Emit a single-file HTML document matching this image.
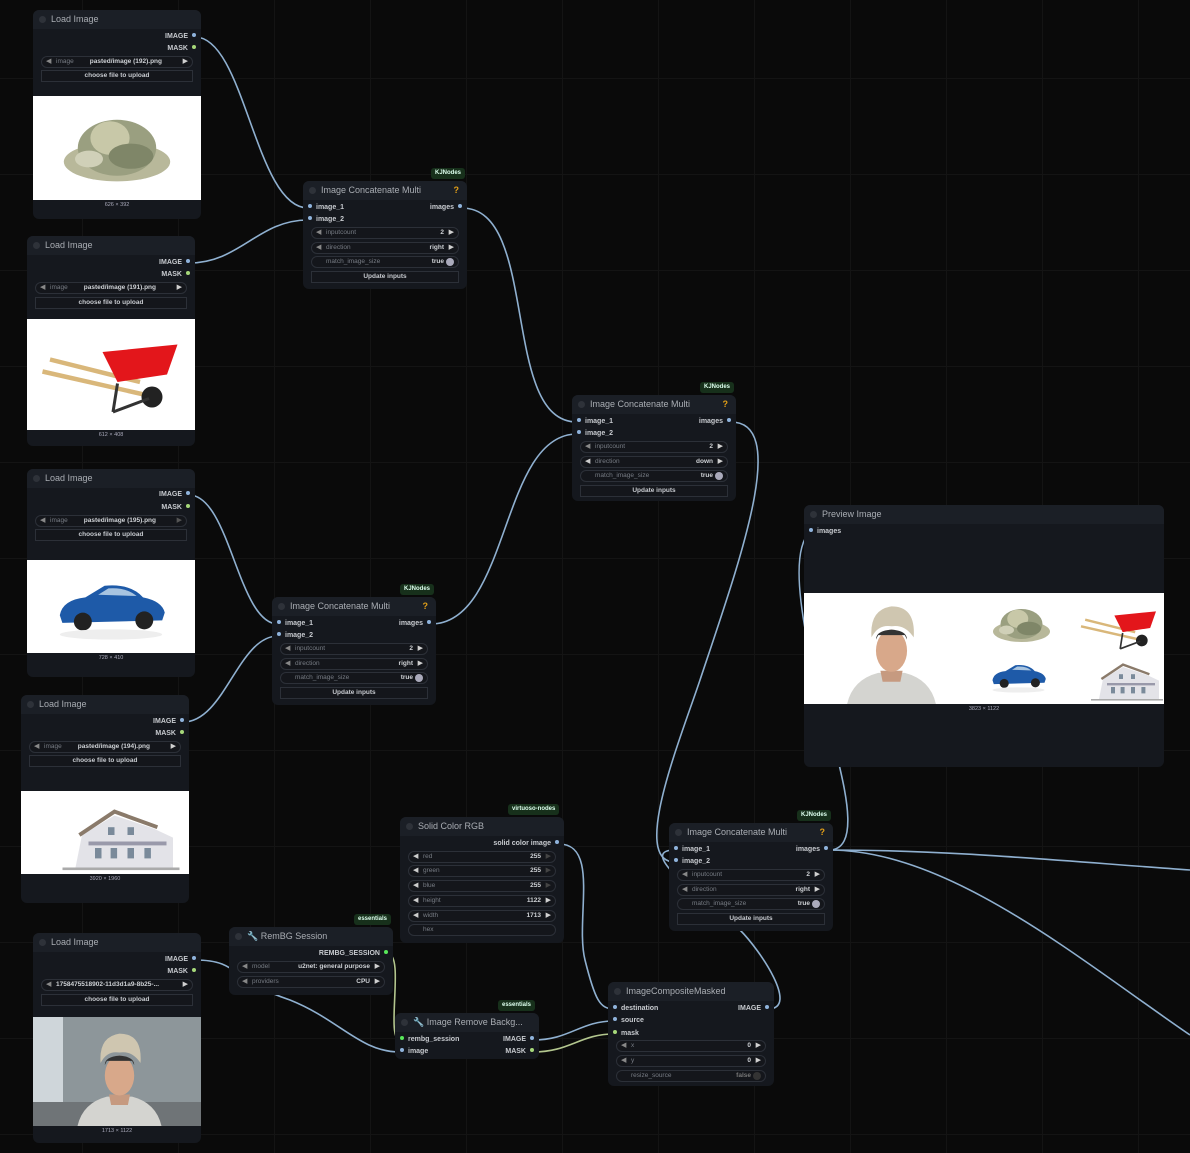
<!DOCTYPE html>
<html><head><meta charset="utf-8">
<style>
*{box-sizing:border-box;margin:0;padding:0}
body{width:1190px;height:1153px;overflow:hidden;background:#0a0a0a;position:relative;font-family:"Liberation Sans",Arial,sans-serif;
background-image:linear-gradient(#141414 1px,transparent 1px),linear-gradient(90deg,#141414 1px,transparent 1px);background-size:96px 96px;background-position:-14px -18px}
.n{position:absolute;background:#15181e;border-radius:6px;}
.t{position:absolute;left:0;top:0;right:0;height:19px;background:#1b1f26;border-radius:6px 6px 0 0;color:#a9adb3;font-size:9px;line-height:19px;padding-left:18px;white-space:nowrap}
.t:before{content:"";position:absolute;left:6px;top:6px;width:7px;height:7px;border-radius:50%;background:#2e3239}
.q{position:absolute;right:8px;top:0;color:#e3a018;font-weight:bold;font-size:9px}
.o{position:absolute;right:5px;font-size:7px;font-weight:bold;color:#c8cbd0;white-space:nowrap;line-height:10px}
.o:after{content:"";display:inline-block;width:4px;height:4px;border-radius:50%;background:#8fb3dc;margin-left:4px;vertical-align:1px}
.o.g:after{background:#a6d87a}
.o.gg:after{background:#58e85a}
.i{position:absolute;left:5px;font-size:7px;font-weight:bold;color:#c8cbd0;white-space:nowrap;line-height:10px}
.i:before{content:"";display:inline-block;width:4px;height:4px;border-radius:50%;background:#8fb3dc;margin-right:4px;vertical-align:1px}
.i.gg:before{background:#58e85a}
.i.g:before{background:#a6d87a}
.w{position:absolute;left:8px;right:8px;height:12px;border:1px solid #2c3038;border-radius:6px;background:#14161b;font-size:6.5px;line-height:10px;color:#777c84;padding:0 8px}
.w .l{position:absolute;left:14px}
.w .v{position:absolute;right:14px;color:#cfd2d6;font-weight:bold}
.w .a{position:absolute;right:4px;color:#d0d0d0;font-size:7px}
.w .la{position:absolute;left:4px;color:#888;font-size:7px}
.btn{position:absolute;left:8px;right:8px;height:12px;border:1px solid #2c3038;background:#14161b;font-size:6.5px;line-height:10px;color:#c8cbd0;text-align:center;font-weight:bold}
.img{position:absolute;left:0;right:0;background:#fff;overflow:hidden}
.sz{position:absolute;left:0;right:0;text-align:center;font-size:5.5px;color:#aab}
.badge{position:absolute;background:#17301b;color:#dfe;font-size:6px;font-weight:bold;padding:0 4px;line-height:11px;border-radius:3px}
svg.wires{position:absolute;left:0;top:0;pointer-events:none}
</style></head><body>

<svg width="0" height="0" style="position:absolute">
<defs>
<symbol id="money" viewBox="0 0 100 60"><ellipse cx="50" cy="42" rx="38" ry="14" fill="#b8b89a"/><ellipse cx="50" cy="32" rx="28" ry="20" fill="#9a9f80"/><ellipse cx="45" cy="25" rx="14" ry="12" fill="#c8c8a8"/><ellipse cx="60" cy="38" rx="16" ry="9" fill="#7f8668"/><ellipse cx="30" cy="40" rx="10" ry="6" fill="#d0d0b8"/></symbol>
<symbol id="barrow" viewBox="0 0 100 60"><line x1="5" y1="28" x2="80" y2="45" stroke="#d9b77a" stroke-width="3"/><line x1="10" y1="20" x2="70" y2="35" stroke="#d9b77a" stroke-width="3"/><path d="M45 15 L95 10 L88 30 L55 35 Z" fill="#e3161b"/><circle cx="78" cy="45" r="7" fill="#222"/><line x1="55" y1="36" x2="52" y2="55" stroke="#333" stroke-width="2"/><line x1="52" y1="55" x2="76" y2="46" stroke="#333" stroke-width="2"/></symbol>
<symbol id="car" viewBox="0 0 100 60"><path d="M10 38 Q12 26 30 24 L45 15 Q65 13 75 24 Q90 27 92 36 L90 42 L12 44Z" fill="#1e5aa8"/><path d="M40 22 L48 17 Q62 16 70 23Z" fill="#a8c4e0"/><circle cx="28" cy="43" r="7" fill="#222"/><circle cx="76" cy="42" r="7" fill="#222"/><ellipse cx="50" cy="53" rx="40" ry="4" fill="#eee"/></symbol>
<symbol id="house" viewBox="0 0 100 60"><path d="M20 30 L45 15 L75 25 L90 32 L90 55 L15 55 Z" fill="#e3e3e8"/><path d="M18 30 L45 12 L78 24" stroke="#8a7a6a" stroke-width="3" fill="none"/><rect x="25" y="35" width="60" height="3" fill="#99a"/><g fill="#7a8a9a"><rect x="30" y="40" width="5" height="8"/><rect x="42" y="40" width="5" height="8"/><rect x="55" y="40" width="5" height="8"/><rect x="68" y="40" width="5" height="8"/><rect x="40" y="24" width="5" height="6"/><rect x="55" y="24" width="5" height="6"/></g><rect x="5" y="55" width="90" height="2" fill="#aaa"/></symbol>
<symbol id="person" viewBox="0 0 100 100"><path d="M10 100 Q15 78 38 72 L62 72 Q85 78 90 100Z" fill="#d4d4d0"/><path d="M40 70 L60 70 L58 80 L42 80Z" fill="#c69a80"/><ellipse cx="50" cy="52" rx="14" ry="19" fill="#d8a88a"/><path d="M32 40 Q30 15 50 12 Q72 12 70 40 Q62 28 50 30 Q38 28 32 40Z" fill="#cfc6b0"/><path d="M36 42 Q36 34 50 33 Q64 34 64 42 L62 38 L38 38Z" fill="#333"/></symbol>
</defs></svg>

<svg class="wires" width="1190" height="1153">
<g fill="none" stroke="#8fb0d0" stroke-width="1.6">
<path d="M195 37 C245 37 255 208 308 208"/>
<path d="M189 263 C240 263 258 220 308 220"/>
<path d="M462 208 C540 208 500 422 577 422"/>
<path d="M189 495 C230 495 238 624 278 624"/>
<path d="M183 722 C225 722 238 636 278 636"/>
<path d="M431 624 C510 624 500 434 577 434"/>
<path d="M731 422 C790 422 740 560 700 680 C680 740 630 862 675 862"/>
<path d="M768 1009 C800 1009 760 950 740 930 C720 910 630 850 675 850"/>
<path d="M829 850 C860 850 845 790 838 760 C820 700 780 560 810 532"/>
<path d="M829 850 C950 850 1050 860 1190 870"/>
<path d="M829 850 C950 850 1080 960 1190 1035"/>
<path d="M559 844 C600 844 575 920 585 960 C595 1000 600 1009 614 1009"/>
<path d="M195 960 C240 960 230 980 290 1000 C340 1020 360 1052 400 1052"/>
<path d="M533 1040 C570 1040 580 1021 614 1021"/>
</g>
<g fill="none" stroke="#b3c68e" stroke-width="1.6">
<path d="M388 954 C405 954 385 1040 400 1040"/>
<path d="M533 1052 C570 1052 580 1034 614 1034"/>
</g>
</svg>

<!-- Load Image 1 -->
<div class="n" style="left:33px;top:10px;width:168px;height:209px">
<div class="t">Load Image</div>
<div class="o" style="top:22px">IMAGE</div><div class="o g" style="top:34px">MASK</div>
<div class="w" style="top:46px"><span class="la">◀</span><span class="l">image</span><span class="v" style="right:30px">pasted/image (192).png</span><span class="a">▶</span></div>
<div class="btn" style="top:60px">choose file to upload</div>
<div class="img" style="top:86px;height:104px"><svg width="168" height="104"><use href="#money" x="14" y="4" width="140" height="90"/></svg></div>
<div class="sz" style="top:192px">626 × 392</div>
</div>
<!-- Load Image 2 -->
<div class="n" style="left:27px;top:236px;width:168px;height:210px">
<div class="t">Load Image</div>
<div class="o" style="top:22px">IMAGE</div><div class="o g" style="top:34px">MASK</div>
<div class="w" style="top:46px"><span class="la">◀</span><span class="l">image</span><span class="v" style="right:30px">pasted/image (191).png</span><span class="a">▶</span></div>
<div class="btn" style="top:61px">choose file to upload</div>
<div class="img" style="top:83px;height:111px"><svg width="168" height="111"><use href="#barrow" x="8" y="8" width="150" height="95"/></svg></div>
<div class="sz" style="top:196px">612 × 408</div>
</div>
<!-- Load Image 3 -->
<div class="n" style="left:27px;top:469px;width:168px;height:208px">
<div class="t">Load Image</div>
<div class="o" style="top:21px">IMAGE</div><div class="o g" style="top:34px">MASK</div>
<div class="w" style="top:46px"><span class="la">◀</span><span class="l">image</span><span class="v" style="right:30px">pasted/image (195).png</span><span class="a" style="color:#555">▶</span></div>
<div class="btn" style="top:60px">choose file to upload</div>
<div class="img" style="top:91px;height:93px"><svg width="168" height="93"><use href="#car" x="20" y="5" width="128" height="80"/></svg></div>
<div class="sz" style="top:186px">728 × 410</div>
</div>
<!-- Load Image 4 -->
<div class="n" style="left:21px;top:695px;width:168px;height:208px">
<div class="t">Load Image</div>
<div class="o" style="top:22px">IMAGE</div><div class="o g" style="top:34px">MASK</div>
<div class="w" style="top:46px"><span class="la">◀</span><span class="l">image</span><span class="v" style="right:30px">pasted/image (194).png</span><span class="a">▶</span></div>
<div class="btn" style="top:60px">choose file to upload</div>
<div class="img" style="top:96px;height:83px"><svg width="168" height="83"><use href="#house" x="35" y="5" width="130" height="78"/></svg></div>
<div class="sz" style="top:181px">3920 × 1960</div>
</div>
<!-- Load Image 5 -->
<div class="n" style="left:33px;top:933px;width:168px;height:210px">
<div class="t">Load Image</div>
<div class="o" style="top:22px">IMAGE</div><div class="o g" style="top:34px">MASK</div>
<div class="w" style="top:46px"><span class="la">◀</span><span class="l" style="color:#cfd2d6;font-weight:bold">1758475518902-11d3d1a9-8b25-...</span><span class="a">▶</span></div>
<div class="btn" style="top:61px">choose file to upload</div>
<div class="img" style="top:84px;height:109px;background:#8d969a"><div style="position:absolute;left:0;top:0;width:30px;height:90px;background:#cfd6da"></div><div style="position:absolute;left:0;top:85px;width:168px;height:24px;background:#6f7477"></div><svg width="168" height="109" style="position:absolute;left:0;top:0"><use href="#person" x="34" y="4" width="105" height="105"/></svg></div>
<div class="sz" style="top:195px">1713 × 1122</div>
</div>

<!-- ICM 1 -->
<div class="badge" style="left:431px;top:168px">KJNodes</div>
<div class="n" style="left:303px;top:181px;width:164px;height:108px">
<div class="t">Image Concatenate Multi<span class="q">?</span></div>
<div class="i" style="top:22px">image_1</div><div class="i" style="top:34px">image_2</div>
<div class="o" style="top:22px">images</div>
<div class="w" style="top:46px"><span class="la">◀</span><span class="l">inputcount</span><span class="v">2</span><span class="a">▶</span></div>
<div class="w" style="top:61px"><span class="la">◀</span><span class="l">direction</span><span class="v">right</span><span class="a">▶</span></div>
<div class="w" style="top:75px"><span class="l">match_image_size</span><span class="v">true</span><span class="a" style="width:8px;height:8px;border-radius:50%;background:#aab;top:1px"></span></div>
<div class="btn" style="top:90px">Update inputs</div>
</div>
<!-- ICM 2 -->
<div class="badge" style="left:700px;top:382px">KJNodes</div>
<div class="n" style="left:572px;top:395px;width:164px;height:106px">
<div class="t">Image Concatenate Multi<span class="q">?</span></div>
<div class="i" style="top:22px">image_1</div><div class="i" style="top:34px">image_2</div>
<div class="o" style="top:22px">images</div>
<div class="w" style="top:46px"><span class="la">◀</span><span class="l">inputcount</span><span class="v">2</span><span class="a">▶</span></div>
<div class="w" style="top:61px"><span class="la" style="color:#ccc">◀</span><span class="l">direction</span><span class="v">down</span><span class="a">▶</span></div>
<div class="w" style="top:75px"><span class="l">match_image_size</span><span class="v">true</span><span class="a" style="width:8px;height:8px;border-radius:50%;background:#aab;top:1px"></span></div>
<div class="btn" style="top:90px">Update inputs</div>
</div>
<!-- ICM 3 -->
<div class="badge" style="left:400px;top:584px">KJNodes</div>
<div class="n" style="left:272px;top:597px;width:164px;height:108px">
<div class="t">Image Concatenate Multi<span class="q">?</span></div>
<div class="i" style="top:22px">image_1</div><div class="i" style="top:34px">image_2</div>
<div class="o" style="top:22px">images</div>
<div class="w" style="top:46px"><span class="la">◀</span><span class="l">inputcount</span><span class="v">2</span><span class="a">▶</span></div>
<div class="w" style="top:61px"><span class="la">◀</span><span class="l">direction</span><span class="v">right</span><span class="a">▶</span></div>
<div class="w" style="top:75px"><span class="l">match_image_size</span><span class="v">true</span><span class="a" style="width:8px;height:8px;border-radius:50%;background:#aab;top:1px"></span></div>
<div class="btn" style="top:90px">Update inputs</div>
</div>
<!-- ICM 4 -->
<div class="badge" style="left:797px;top:810px">KJNodes</div>
<div class="n" style="left:669px;top:823px;width:164px;height:108px">
<div class="t">Image Concatenate Multi<span class="q">?</span></div>
<div class="i" style="top:22px">image_1</div><div class="i" style="top:34px">image_2</div>
<div class="o" style="top:22px">images</div>
<div class="w" style="top:46px"><span class="la">◀</span><span class="l">inputcount</span><span class="v">2</span><span class="a">▶</span></div>
<div class="w" style="top:61px"><span class="la">◀</span><span class="l">direction</span><span class="v">right</span><span class="a">▶</span></div>
<div class="w" style="top:75px"><span class="l">match_image_size</span><span class="v">true</span><span class="a" style="width:8px;height:8px;border-radius:50%;background:#aab;top:1px"></span></div>
<div class="btn" style="top:90px">Update inputs</div>
</div>

<!-- Preview -->
<div class="n" style="left:804px;top:505px;width:360px;height:262px">
<div class="t">Preview Image</div>
<div class="i" style="top:22px">images</div>
<div class="img" style="top:88px;height:111px"><svg width="360" height="111"><use href="#person" x="30" y="0" width="115" height="111"/><use href="#money" x="180" y="2" width="75" height="55"/><use href="#barrow" x="272" y="10" width="85" height="50"/><use href="#car" x="182" y="62" width="65" height="40"/><use href="#house" x="283" y="62" width="80" height="48"/></svg></div>
<div class="sz" style="top:201px">3823 × 1122</div>
</div>

<!-- Solid Color -->
<div class="badge" style="left:508px;top:804px">virtuoso-nodes</div>
<div class="n" style="left:400px;top:817px;width:164px;height:126px">
<div class="t">Solid Color RGB</div>
<div class="o" style="top:22px">solid color image</div>
<div class="w" style="top:34px"><span class="la" style="color:#ccc">◀</span><span class="l">red</span><span class="v">255</span><span class="a" style="color:#444">▶</span></div>
<div class="w" style="top:48px"><span class="la" style="color:#ccc">◀</span><span class="l">green</span><span class="v">255</span><span class="a" style="color:#444">▶</span></div>
<div class="w" style="top:63px"><span class="la" style="color:#ccc">◀</span><span class="l">blue</span><span class="v">255</span><span class="a" style="color:#444">▶</span></div>
<div class="w" style="top:78px"><span class="la" style="color:#ccc">◀</span><span class="l">height</span><span class="v">1122</span><span class="a">▶</span></div>
<div class="w" style="top:93px"><span class="la" style="color:#ccc">◀</span><span class="l">width</span><span class="v">1713</span><span class="a">▶</span></div>
<div class="w" style="top:107px"><span class="l">hex</span></div>
</div>

<!-- RemBG Session -->
<div class="badge" style="left:354px;top:914px">essentials</div>
<div class="n" style="left:229px;top:927px;width:164px;height:68px">
<div class="t">🔧 RemBG Session</div>
<div class="o gg" style="top:22px">REMBG_SESSION</div>
<div class="w" style="top:34px"><span class="la">◀</span><span class="l">model</span><span class="v">u2net: general purpose</span><span class="a">▶</span></div>
<div class="w" style="top:49px"><span class="la">◀</span><span class="l">providers</span><span class="v">CPU</span><span class="a">▶</span></div>
</div>

<!-- Image Remove Background -->
<div class="badge" style="left:498px;top:1000px">essentials</div>
<div class="n" style="left:395px;top:1013px;width:144px;height:46px">
<div class="t">🔧 Image Remove Backg...</div>
<div class="i gg" style="top:22px">rembg_session</div><div class="i" style="top:34px">image</div>
<div class="o" style="top:22px">IMAGE</div><div class="o g" style="top:34px">MASK</div>
</div>

<!-- ImageCompositeMasked -->
<div class="n" style="left:608px;top:982px;width:166px;height:104px">
<div class="t">ImageCompositeMasked</div>
<div class="i" style="top:22px">destination</div><div class="i" style="top:34px">source</div><div class="i g" style="top:47px">mask</div>
<div class="o" style="top:22px">IMAGE</div>
<div class="w" style="top:58px"><span class="la">◀</span><span class="l">x</span><span class="v">0</span><span class="a">▶</span></div>
<div class="w" style="top:73px"><span class="la">◀</span><span class="l">y</span><span class="v">0</span><span class="a">▶</span></div>
<div class="w" style="top:88px"><span class="l">resize_source</span><span class="v" style="color:#777">false</span><span class="a" style="width:8px;height:8px;border-radius:50%;background:#333;top:1px"></span></div>
</div>

</body></html>
